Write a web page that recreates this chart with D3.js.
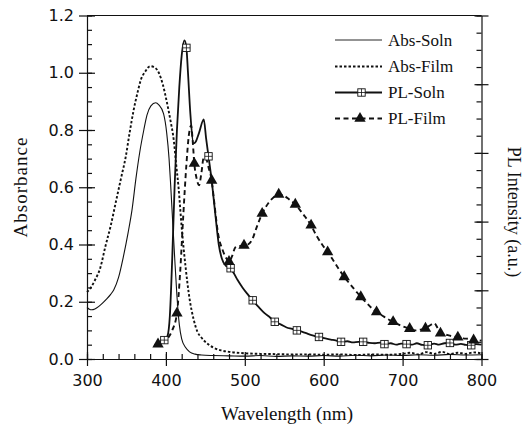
<!DOCTYPE html>
<html>
<head>
<meta charset="utf-8">
<script src="https://cdn.jsdelivr.net/npm/d3@7"></script>
<style>
  body { margin: 0; background: #fff; }
  svg { display: block; }
</style>
</head>
<body>
<script>
// absorbance and PL spectra, [wavelength (nm), value]
const absSoln = [
  [300, 0.180], [303, 0.174], [306, 0.172], [310, 0.175], [315, 0.184], [320, 0.196],
  [325, 0.210], [330, 0.226], [334, 0.242], [340, 0.285], [346, 0.356], [352, 0.440],
  [357, 0.520], [362, 0.630], [367, 0.725], [372, 0.800], [376, 0.852], [381, 0.884],
  [387, 0.895], [391, 0.888], [397, 0.857], [401, 0.790], [404, 0.700], [406, 0.610],
  [408, 0.510], [411, 0.360], [414, 0.220], [417, 0.120], [420, 0.070], [425, 0.040],
  [430, 0.025], [437, 0.017], [445, 0.014], [460, 0.012], [480, 0.011], [500, 0.010],
  [520, 0.012], [540, 0.009], [560, 0.011], [580, 0.010], [600, 0.012], [620, 0.010],
  [640, 0.013], [660, 0.011], [680, 0.014], [700, 0.012], [720, 0.015], [740, 0.013],
  [760, 0.016], [780, 0.014], [800, 0.015]
];

const absFilm = [
  [300, 0.234], [305, 0.250], [310, 0.275], [317, 0.320], [323, 0.390], [330, 0.465],
  [337, 0.554], [343, 0.630], [349, 0.705], [354, 0.790], [359, 0.868], [364, 0.930],
  [368, 0.973], [374, 1.005], [380, 1.023], [386, 1.018], [391, 1.000], [396, 0.960],
  [401, 0.900], [406, 0.830], [410, 0.764], [413, 0.680], [416, 0.600], [420, 0.460],
  [425, 0.320], [430, 0.210], [435, 0.140], [440, 0.095], [445, 0.075], [450, 0.060],
  [460, 0.040], [470, 0.030], [480, 0.025], [500, 0.020], [520, 0.018], [540, 0.017],
  [560, 0.016], [580, 0.016], [600, 0.015], [620, 0.016], [640, 0.014], [660, 0.016],
  [680, 0.015], [700, 0.018], [710, 0.022], [720, 0.016], [730, 0.024], [740, 0.018],
  [750, 0.025], [760, 0.017], [770, 0.022], [780, 0.018], [790, 0.023], [800, 0.020]
];

const plSoln = [
  [390, 0.060], [395, 0.062], [398, 0.066], [402, 0.080], [405, 0.150], [408, 0.350],
  [411, 0.600], [414, 0.800], [417, 0.950], [420, 1.060], [423.5, 1.113], [426, 1.087],
  [428, 1.000], [431, 0.857], [435, 0.753], [438, 0.760], [442, 0.790], [448, 0.837],
  [451, 0.770], [454, 0.708], [458, 0.624], [463, 0.496], [467, 0.400], [471, 0.350],
  [476, 0.325], [482, 0.317], [490, 0.280], [497, 0.250], [504, 0.225], [510, 0.205],
  [518, 0.180], [525, 0.160], [532, 0.145], [538, 0.130], [546, 0.120], [553, 0.110],
  [560, 0.105], [566, 0.100], [573, 0.095], [580, 0.088], [587, 0.082], [594, 0.077],
  [602, 0.072], [609, 0.068], [615, 0.065], [622, 0.060], [630, 0.062], [637, 0.058],
  [644, 0.060], [650, 0.060], [658, 0.056], [665, 0.055], [672, 0.057], [677, 0.052],
  [685, 0.055], [692, 0.050], [698, 0.054], [705, 0.052], [712, 0.050], [718, 0.055],
  [725, 0.049], [732, 0.048], [740, 0.054], [746, 0.050], [753, 0.055], [760, 0.056],
  [767, 0.050], [774, 0.053], [780, 0.049], [787, 0.048], [793, 0.052], [800, 0.050]
];

const plFilm = [
  [385, 0.050], [388, 0.048], [391, 0.055], [398, 0.060], [403, 0.075], [408, 0.100],
  [414, 0.160], [418, 0.300], [422, 0.500], [426, 0.680], [429, 0.780], [432, 0.816],
  [434, 0.760], [436, 0.683], [439, 0.630], [442, 0.607], [445, 0.650], [448, 0.705],
  [451, 0.700], [454, 0.670], [458, 0.624], [461, 0.554], [466, 0.440], [472, 0.380],
  [477, 0.350], [480, 0.340], [484, 0.360], [488, 0.390], [494, 0.395], [499, 0.397],
  [504, 0.400], [509, 0.415], [515, 0.460], [522, 0.508], [530, 0.545], [537, 0.566],
  [543, 0.575], [550, 0.570], [556, 0.558], [564, 0.540], [570, 0.520], [577, 0.495],
  [584, 0.467], [591, 0.430], [598, 0.400], [605, 0.374], [612, 0.345], [619, 0.315],
  [626, 0.287], [633, 0.263], [640, 0.240], [647, 0.217], [654, 0.197], [660, 0.180],
  [667, 0.164], [674, 0.152], [681, 0.140], [688, 0.130], [695, 0.120], [702, 0.112],
  [709, 0.106], [716, 0.100], [722, 0.102], [729, 0.107], [735, 0.118], [740, 0.125],
  [744, 0.110], [748, 0.090], [755, 0.085], [762, 0.080], [770, 0.076], [777, 0.072],
  [784, 0.070], [790, 0.066], [795, 0.064], [800, 0.065]
];

// marker positions
const plSolnMarks = [
  [398, 0.066], [426, 1.087], [454, 0.708], [482, 0.317], [510, 0.205], [538, 0.130],
  [566, 0.100], [594, 0.077], [622, 0.060], [650, 0.060], [677, 0.052], [705, 0.052],
  [732, 0.048], [760, 0.056], [787, 0.048]
];

const plFilmMarks = [
  [390, 0.052], [414, 0.160], [436, 0.683], [458, 0.624], [480, 0.340], [499, 0.397],
  [522, 0.508], [543, 0.575], [564, 0.540], [584, 0.467], [605, 0.374], [626, 0.287],
  [647, 0.217], [667, 0.164], [688, 0.130], [709, 0.106], [729, 0.107], [748, 0.090],
  [770, 0.076], [790, 0.066]
];

const legendLabels = ['Abs-Soln', 'Abs-Film', 'PL-Soln', 'PL-Film'];
const xTicks = [300, 400, 500, 600, 700, 800];
const yTicks = [0, 0.2, 0.4, 0.6, 0.8, 1.0, 1.2];

const W = 528, H = 426;
const LEFT = 87, RIGHT = 481.5, TOP = 15.5, BOT = 359;

const svg = d3.select('body').append('svg')
    .attr('width', W)
    .attr('height', H);

const x = d3.scaleLinear().domain([300, 800]).range([LEFT, RIGHT]);
const y = d3.scaleLinear().domain([0, 1.2]).range([BOT, TOP]);
const yR = d3.scaleLinear().domain([0, 5]).range([BOT, TOP]);

const INK = '#111';

// helper: draw an axis and style it
const drawAxis = (axis, tx, ty, withDomain) => {
  const g = svg.append('g')
      .attr('transform', `translate(${tx},${ty})`)
      .call(axis);
  if (!withDomain) g.select('.domain').remove();
  g.select('.domain').attr('stroke', INK).attr('stroke-width', 1.2);
  g.selectAll('.tick line').attr('stroke', INK).attr('stroke-width', 1.2);
  g.selectAll('text')
      .attr('fill', INK)
      .style('font-family', '"DejaVu Sans", sans-serif')
      .style('font-size', '16px');
  return g;
};

const minorX = d3.range(300, 801, 20);
const minorY = d3.range(0, 1.2001, 0.05);
const minorR = d3.range(0, 5.001, 0.25);

// bottom axis
drawAxis(d3.axisBottom(x).tickValues(xTicks).tickSize(7).tickSizeOuter(0)
  .tickPadding(9).tickFormat(d3.format('d')), 0, BOT, true);
drawAxis(d3.axisTop(x).tickValues(xTicks).tickSize(7).tickFormat(''), 0, BOT, false);
drawAxis(d3.axisTop(x).tickValues(minorX).tickSize(5).tickFormat(''), 0, BOT, false);

// left axis
drawAxis(d3.axisLeft(y).tickValues(yTicks).tickSize(8).tickSizeOuter(0)
  .tickPadding(5).tickFormat(d3.format('.1f')), LEFT, 0, true);
drawAxis(d3.axisRight(y).tickValues(yTicks).tickSize(8).tickFormat(''), LEFT, 0, false);
drawAxis(d3.axisRight(y).tickValues(minorY).tickSize(5).tickFormat(''), LEFT, 0, false);

// right axis (PL intensity, no labels)
drawAxis(d3.axisRight(yR).ticks(5).tickSize(7).tickSizeOuter(0).tickFormat(''), RIGHT, 0, true);
drawAxis(d3.axisLeft(yR).ticks(5).tickSize(7).tickFormat(''), RIGHT, 0, false);
drawAxis(d3.axisLeft(yR).tickValues(minorR).tickSize(5).tickFormat(''), RIGHT, 0, false);

// top frame
svg.append('line')
    .attr('x1', x(300)).attr('x2', x(800))
    .attr('y1', y(1.2)).attr('y2', y(1.2))
    .attr('stroke', INK).attr('stroke-width', 1.2);

// curves
const line = d3.line()
    .x(d => x(d[0]))
    .y(d => y(d[1]))
    .curve(d3.curveMonotoneX);

const styles = [
  { width: 1.1, dash: null },
  { width: 1.9, dash: '2.5,2' },
  { width: 1.8, dash: null },
  { width: 1.9, dash: '5,3.5' }
];

[absSoln, absFilm, plSoln, plFilm].forEach((data, i) => {
  svg.append('path')
      .datum(data)
      .attr('d', line)
      .attr('fill', 'none')
      .attr('stroke', INK)
      .attr('stroke-width', styles[i].width)
      .attr('stroke-dasharray', styles[i].dash);
});

// square-with-cross marker
const drawSquare = (g, cx, cy) => {
  const s = 3.7;
  g.append('rect')
      .attr('x', cx - s).attr('y', cy - s)
      .attr('width', 2 * s).attr('height', 2 * s)
      .attr('fill', '#fff')
      .attr('stroke', INK)
      .attr('stroke-width', 0.9);
  g.append('path')
      .attr('d', `M${cx - s},${cy}H${cx + s}M${cx},${cy - s}V${cy + s}`)
      .attr('stroke', INK)
      .attr('stroke-width', 0.8);
};

const tri = d3.symbol().type(d3.symbolTriangle).size(56);

const marks = svg.append('g');
plSolnMarks.forEach(d => drawSquare(marks, x(d[0]), y(d[1])));

marks.selectAll('.tri')
  .data(plFilmMarks)
  .enter()
  .append('path')
    .attr('class', 'tri')
    .attr('d', tri)
    .attr('transform', d => `translate(${x(d[0])},${y(d[1])})`)
    .attr('fill', INK);

// legend
const legend = svg.append('g');
const rowY = [40, 66.5, 92.5, 118.5];
legendLabels.forEach((label, i) => {
  legend.append('line')
      .attr('x1', 335).attr('x2', 382)
      .attr('y1', rowY[i]).attr('y2', rowY[i])
      .attr('stroke', INK)
      .attr('stroke-width', i === 0 ? 0.9 : styles[i].width)
      .attr('stroke-dasharray', styles[i].dash);
  legend.append('text')
      .attr('x', 388)
      .attr('y', rowY[i] + 5.5)
      .attr('fill', INK)
      .style('font-family', '"Liberation Serif", serif')
      .style('font-size', '17px')
      .text(label);
});
drawSquare(legend, 361.5, rowY[2]);
legend.append('path')
    .attr('d', tri)
    .attr('transform', `translate(360,${rowY[3]})`)
    .attr('fill', INK);

// axis titles
const serif = '"Liberation Serif", serif';
svg.append('text')
    .attr('x', 287).attr('y', 420)
    .attr('text-anchor', 'middle')
    .attr('fill', INK)
    .style('font-family', serif)
    .style('font-size', '19px')
    .text('Wavelength (nm)');

svg.append('text')
    .attr('transform', 'translate(27,187) rotate(-90)')
    .attr('text-anchor', 'middle')
    .attr('fill', INK)
    .style('font-family', serif)
    .style('font-size', '19px')
    .style('letter-spacing', '1px')
    .text('Absorbance');

svg.append('text')
    .attr('transform', 'translate(508,212) rotate(90)')
    .attr('text-anchor', 'middle')
    .attr('fill', INK)
    .style('font-family', serif)
    .style('font-size', '18px')
    .text('PL Intensity (a.u.)');
</script>
</body>
</html>
